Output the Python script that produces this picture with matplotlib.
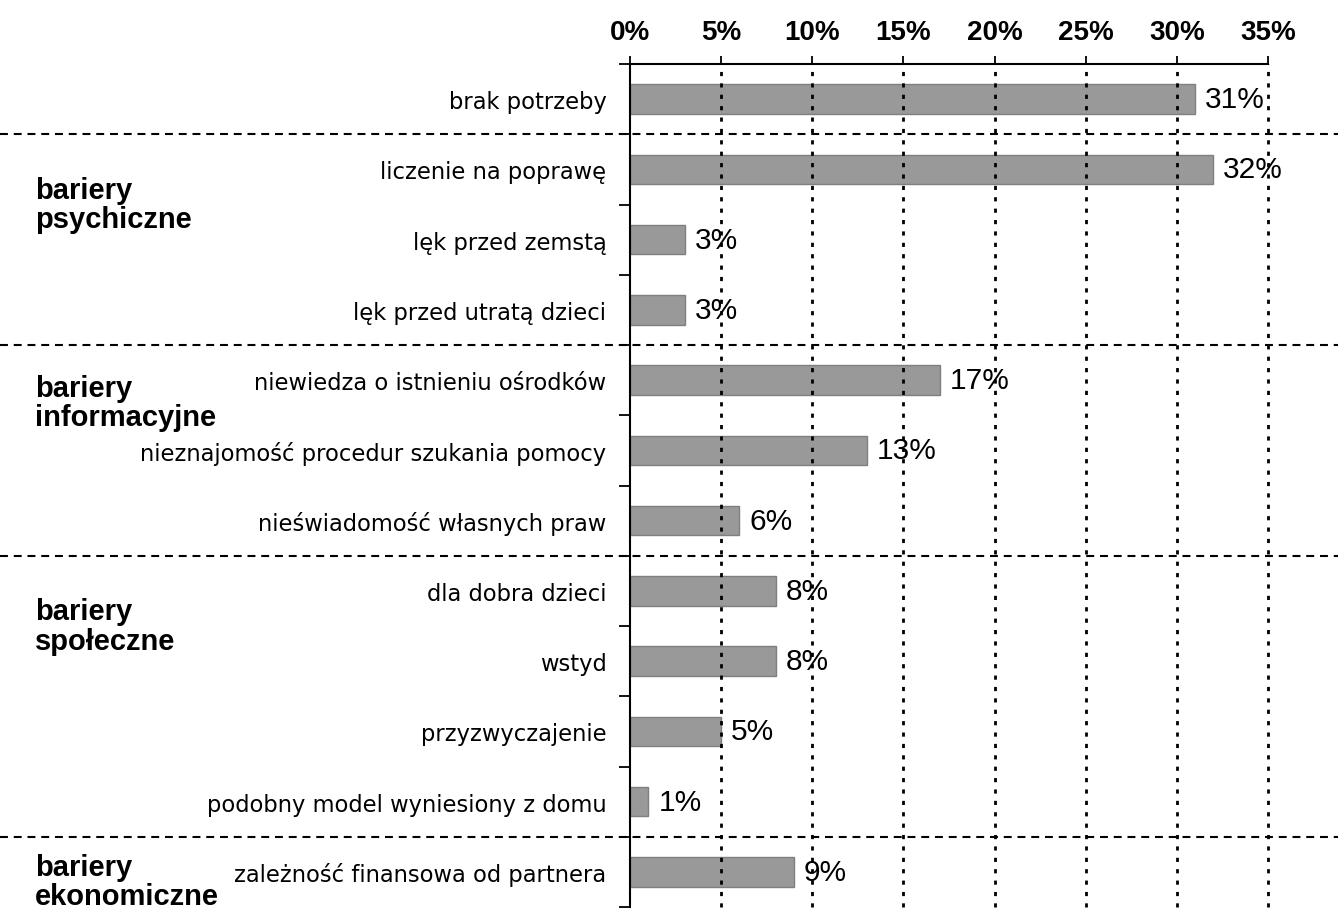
import matplotlib
matplotlib.use("Agg")
import matplotlib.pyplot as plt
import matplotlib.transforms as mtransforms
import numpy as np

plt.rcParams['font.family'] = ['Liberation Sans', 'DejaVu Sans']

# data
categories = [
    "brak potrzeby",
    "liczenie na poprawę",
    "lęk przed zemstą",
    "lęk przed utratą dzieci",
    "niewiedza o istnieniu ośrodków",
    "nieznajomość procedur szukania pomocy",
    "nieświadomość własnych praw",
    "dla dobra dzieci",
    "wstyd",
    "przyzwyczajenie",
    "podobny model wyniesiony z domu",
    "zależność finansowa od partnera",
]
values = [31, 32, 3, 3, 17, 13, 6, 8, 8, 5, 1, 9]
group_names = ["bariery\npsychiczne", "bariery\ninformacyjne",
               "bariery\nspołeczne", "bariery\nekonomiczne"]
group_starts = [1, 4, 7, 11]   # index of first category in each group
x_ticks = [0, 5, 10, 15, 20, 25, 30, 35]

fig = plt.figure(figsize=(13.38, 9.12), dpi=100)
ax = fig.add_axes([630 / 1338, 1 - 908 / 912, (1268 - 630) / 1338, (908 - 65) / 912])

y = np.arange(len(categories))
ax.barh(y, values, height=0.42, color="#999999", edgecolor="#7f7f7f",
        linewidth=1.0, zorder=2)

for yi, v in zip(y, values):
    ax.text(v + 0.55, yi, f"{v}%", va="center", ha="left", fontsize=21.5,
            color="black", zorder=4)

ax.set_xlim(0, 35)
ax.set_ylim(len(categories) - 0.5, -0.5)

# x axis on top
ax.xaxis.tick_top()
ax.set_xticks(x_ticks)
ax.set_xticklabels([f"{t}%" for t in x_ticks], fontsize=20, fontweight="bold")
ax.tick_params(axis="x", direction="out", length=6, width=1.3, pad=8, color="black")

# y labels at centres, ticks at boundaries
ax.set_yticks(y)
ax.set_yticklabels(categories, fontsize=16.3, family=["DejaVu Sans"])
ax.tick_params(axis="y", which="major", length=0, pad=17)
ax.set_yticks(np.arange(-0.5, len(categories)), minor=True)
ax.tick_params(axis="y", which="minor", direction="out", length=8, width=1.3)

for side in ["right", "bottom"]:
    ax.spines[side].set_visible(False)
for side in ["left", "top"]:
    ax.spines[side].set_linewidth(1.5)
    ax.spines[side].set_zorder(5)

# dotted vertical grid
for t in x_ticks[1:]:
    ax.axvline(t, color="black", linewidth=2.0, linestyle=(0, (1.5, 2.6)),
               zorder=3, clip_on=False)

# dashed separators across whole figure
trans = mtransforms.blended_transform_factory(fig.transFigure, ax.transData)
for s in group_starts:
    ax.plot([0, 1], [s - 0.5, s - 0.5], transform=trans, color="black",
            linewidth=1.5, linestyle=(0, (3.8, 2.8)), clip_on=False, zorder=3)

# group labels
group_offsets = [1.0, 0.82, 1.0, 0.64]
for name, s, off in zip(group_names, group_starts, group_offsets):
    ax.text(35 / 1338, s - 0.5 + off, name, transform=trans, ha="left",
            va="center", fontsize=21, fontweight="bold", linespacing=1.05,
            clip_on=False)

fig.savefig("out.png", dpi=100)
